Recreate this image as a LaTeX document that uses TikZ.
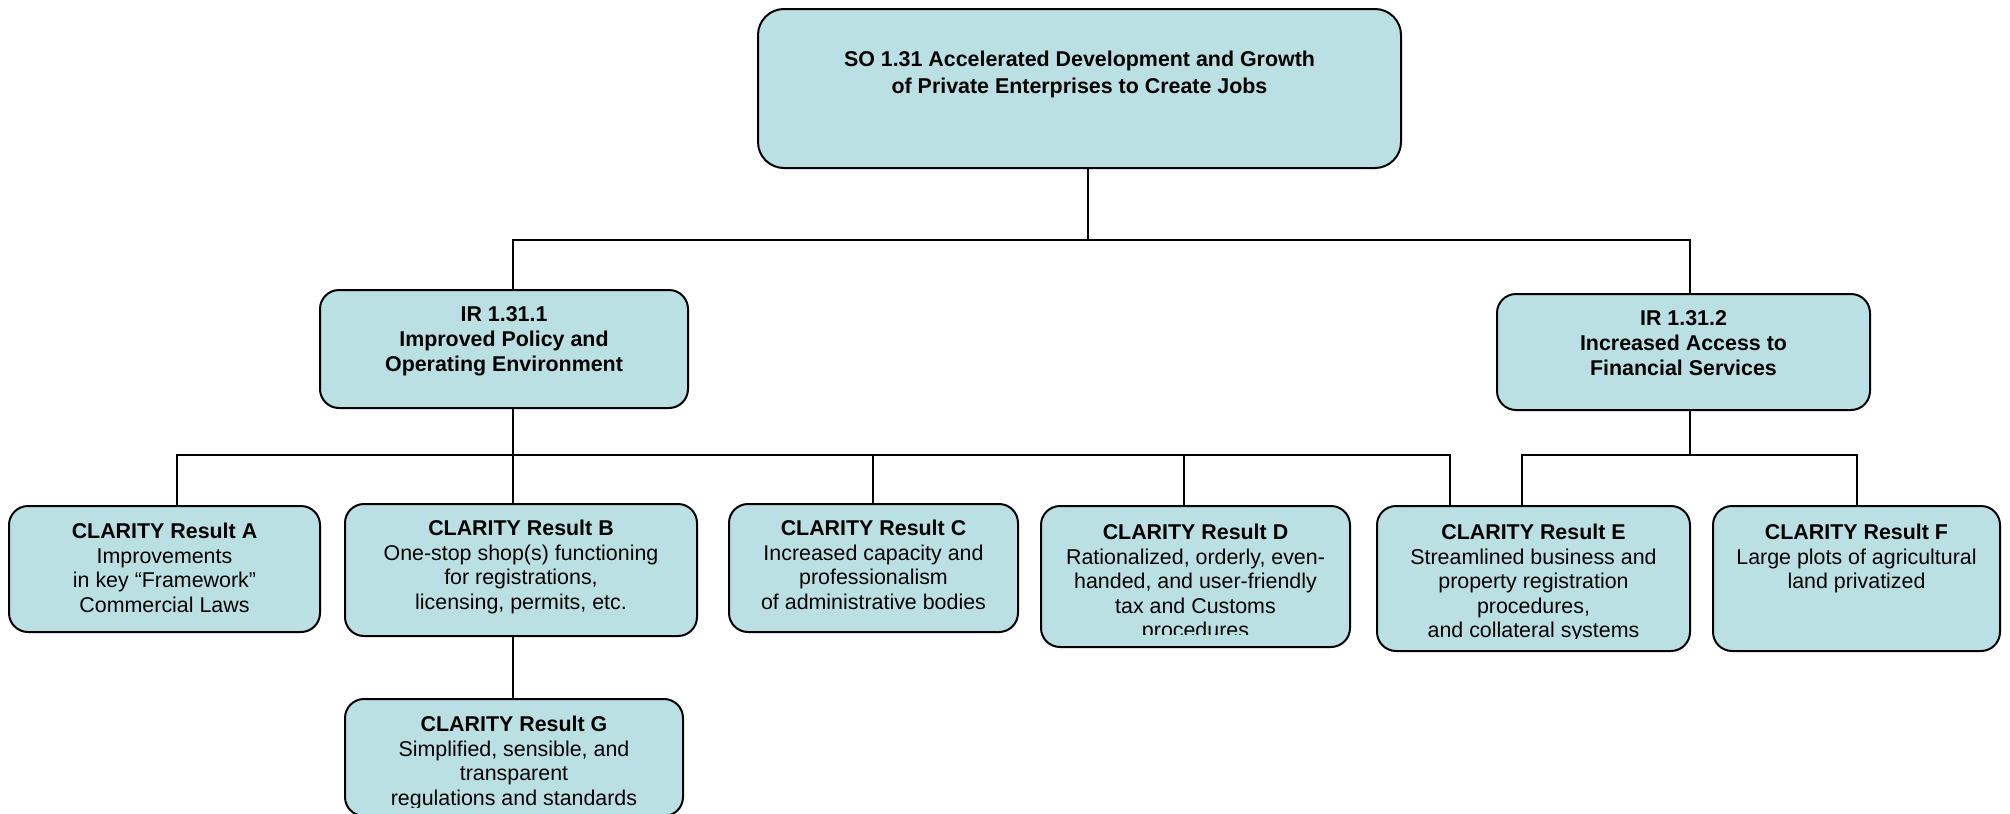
\documentclass[tikz,border=0pt]{standalone}
\usepackage{fontspec}
\setmainfont{Liberation Sans}
\definecolor{boxfill}{RGB}{186,224,227}
\tikzset{
  box/.style={draw=black, line width=1pt, fill=boxfill, rounded corners=9.5pt, inner sep=0pt},
  txt/.style={anchor=north, align=center, inner sep=0pt, font=\fontsize{10.7}{12.3}\selectfont},
  conn/.style={draw=black, line width=0.85pt},
}
\newcommand{\fl}{\rule{0pt}{9pt}}
\begin{document}
\begin{tikzpicture}[x=0.5pt,y=-0.5pt]
\useasboundingbox (0,0) rectangle (2010,814);
% boxes
\node[box, rounded corners=13pt, minimum width=321.5pt, minimum height=79.5pt] (SO) at (1079.5,88.5) {};
\node[box, minimum width=184pt, minimum height=59pt] (IR1) at (504,349) {};
\node[box, minimum width=186.5pt, minimum height=58pt] (IR2) at (1683.5,352) {};
\node[box, minimum width=155.5pt, minimum height=63pt] (A) at (164.5,569) {};
\node[box, minimum width=176pt, minimum height=66pt] (B) at (521,570) {};
\node[box, minimum width=144.5pt, minimum height=64pt] (C) at (873.5,568) {};
\node[box, minimum width=154.5pt, minimum height=70.5pt] (D) at (1195.5,576.5) {};
\node[box, minimum width=156.5pt, minimum height=72.5pt] (E) at (1533.5,578.5) {};
\node[box, minimum width=143.5pt, minimum height=72.5pt] (F) at (1856.5,578.5) {};
\node[box, minimum width=169pt, minimum height=58.5pt] (G) at (514,757.5) {};
% texts
\node[txt, font=\fontsize{10.7}{13.5}\selectfont\bfseries] (tSO) at (1079.5,48) {\fl SO 1.31 Accelerated Development and Growth\\of Private Enterprises to Create Jobs};
\node[txt, font=\fontsize{10.7}{12.5}\selectfont\bfseries] (tIR1) at (504,303) {\fl IR 1.31.1\\Improved Policy and\\Operating Environment};
\node[txt, font=\fontsize{10.7}{12.5}\selectfont\bfseries] (tIR2) at (1683.5,307) {\fl IR 1.31.2\\Increased Access to\\Financial Services};
\node[txt] (tA) at (164.5,520) {\fl\textbf{CLARITY Result A}\\Improvements\\in key “Framework”\\Commercial Laws};
\node[txt] (tB) at (521,517) {\fl\textbf{CLARITY Result B}\\One-stop shop(s) functioning\\for registrations,\\licensing, permits, etc.};
\node[txt] (tC) at (873.5,517) {\fl\textbf{CLARITY Result C}\\Increased capacity and\\professionalism\\of administrative bodies};
\begin{scope}
\clip ([yshift=7pt]D.south west) rectangle (D.north east);
\node[txt] (tD) at (1195.5,521) {\fl\textbf{CLARITY Result D}\\Rationalized, orderly, even-\\handed, and user-friendly\\tax and Customs\\procedures};
\end{scope}
\begin{scope}
\clip ([yshift=7pt]E.south west) rectangle (E.north east);
\node[txt] (tE) at (1533.5,521) {\fl\textbf{CLARITY Result E}\\Streamlined business and\\property registration\\procedures,\\and collateral systems};
\end{scope}
\node[txt] (tF) at (1856.5,521) {\fl\textbf{CLARITY Result F}\\Large plots of agricultural\\land privatized};
\begin{scope}
\clip ([yshift=5pt]G.south west) rectangle (G.north east);
\node[txt] (tG) at (514,713) {\fl\textbf{CLARITY Result G}\\Simplified, sensible, and\\transparent\\regulations and standards};
\end{scope}
% connector coordinates
\coordinate (s0) at (1088,240);
\coordinate (bL) at (513,240);
\coordinate (bR) at (1690,240);
\coordinate (pA) at (177,455);
\coordinate (pB) at (513,455);
\coordinate (pC) at (873,455);
\coordinate (pD) at (1184,455);
\coordinate (pE) at (1450,455);
\coordinate (qE) at (1522,455);
\coordinate (qF) at (1857,455);
\coordinate (q0) at (1690,455);
% connectors
\draw[conn] (s0 |- SO.south) -- (s0);
\draw[conn] (bL |- IR1.north) -- (bL) -- (bR) -- (bR |- IR2.north);
\draw[conn] (pB |- IR1.south) -- (pB);
\draw[conn] (pA |- A.north) -- (pA) -- (pE) -- (pE |- E.north);
\draw[conn] (pB) -- (pB |- B.north);
\draw[conn] (pC) -- (pC |- C.north);
\draw[conn] (pD) -- (pD |- D.north);
\draw[conn] (q0 |- IR2.south) -- (q0);
\draw[conn] (qE |- E.north) -- (qE) -- (qF) -- (qF |- F.north);
\draw[conn] (pB |- B.south) -- (pB |- G.north);
\end{tikzpicture}
\end{document}
